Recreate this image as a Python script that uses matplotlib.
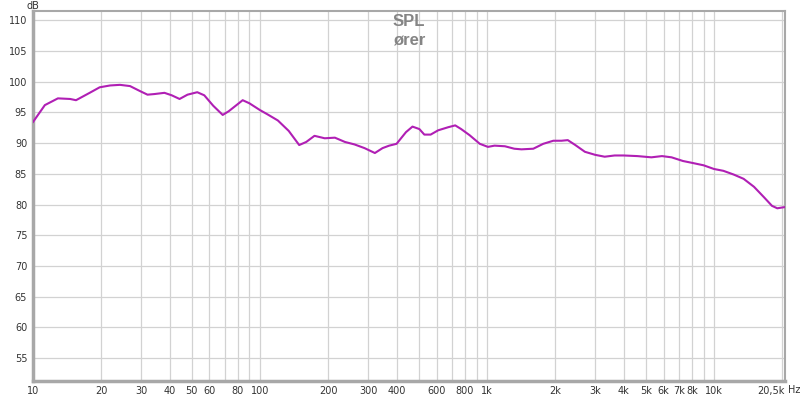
import matplotlib
matplotlib.use('agg')
import matplotlib.pyplot as plt
from matplotlib.ticker import FixedLocator, NullLocator

# frequency response (Hz, dB)
freq = [10, 11.3, 12.9, 14.6, 15.5, 17.8, 19.7, 21.9, 24.2, 26.8, 29.6, 32.0,
        34.3, 38.0, 40.9, 44.3, 48.0, 53.0, 56.9, 62.3, 68.6, 72.9, 84.0, 89.9,
        100, 108, 120, 134, 149, 160, 174, 193, 214, 237, 261, 289, 321, 347,
        371, 400, 440, 470, 504, 530, 565, 610, 675, 725, 770, 839, 930, 1010,
        1080, 1200, 1320, 1420, 1600, 1770, 1960, 2130, 2270, 2450, 2700, 3000,
        3300, 3650, 4000, 4600, 5300, 5900, 6500, 7300, 8000, 9000, 10000,
        11000, 12200, 13500, 15000, 16600, 18000, 19000, 20500]
spl = [93.4, 96.2, 97.3, 97.2, 97.0, 98.2, 99.1, 99.4, 99.5, 99.3, 98.5, 97.9,
       98.0, 98.2, 97.8, 97.2, 97.9, 98.3, 97.8, 96.1, 94.6, 95.2, 97.0, 96.5,
       95.4, 94.7, 93.7, 92.0, 89.7, 90.2, 91.2, 90.8, 90.9, 90.2, 89.8, 89.2,
       88.4, 89.2, 89.6, 89.9, 91.8, 92.7, 92.3, 91.4, 91.4, 92.1, 92.6, 92.9,
       92.3, 91.3, 89.9, 89.4, 89.6, 89.5, 89.1, 89.0, 89.1, 89.9, 90.4, 90.4,
       90.5, 89.7, 88.6, 88.1, 87.8, 88.0, 88.0, 87.9, 87.7, 87.9, 87.7, 87.1,
       86.8, 86.4, 85.8, 85.5, 84.9, 84.2, 82.9, 81.2, 79.8, 79.4, 79.6]

x_ticks = [10, 20, 30, 40, 50, 60, 80, 100, 200, 300, 400, 600, 800,
           1000, 2000, 3000, 4000, 5000, 6000, 7000, 8000, 10000, 20500]
x_labels = ['10', '20', '30', '40', '50', '60', '80', '100', '200', '300',
            '400', '600', '800', '1k', '2k', '3k', '4k', '5k', '6k', '7k',
            '8k', '10k', '20,5k']
y_ticks = list(range(55, 111, 5))

fig = plt.figure(figsize=(8, 3.98), dpi=100)
ax = fig.add_axes([0.041, 0.043, 0.94, 0.929])

# vertical grid at every 1-2-3..9 step per decade
grid_x = [m * 10 ** d for d in (1, 2, 3) for m in range(1, 10)] + [10000, 20000]
for gx in grid_x:
    ax.axvline(gx, color='#d2d2d2', lw=0.9, zorder=1)
for gy in y_ticks:
    ax.axhline(gy, color='#d2d2d2', lw=0.9, zorder=1)

ax.plot(freq, spl, color='#b01fb4', lw=1.5, zorder=3,
        solid_joinstyle='round', solid_capstyle='round')

ax.set_xscale('log')
ax.set_xlim(10, 20500)
ax.set_ylim(51.3, 111.5)
ax.xaxis.set_major_locator(FixedLocator(x_ticks))
ax.xaxis.set_minor_locator(NullLocator())
ax.set_xticklabels(x_labels)
ax.set_yticks(y_ticks)
ax.tick_params(length=0, labelsize=7, colors='#333333', pad=4)
ax.get_xticklabels()[-1].set_horizontalalignment('right')

for side, w in (('left', 2.5), ('bottom', 2.5), ('right', 1.5), ('top', 1.5)):
    ax.spines[side].set_color('#a8a8a8')
    ax.spines[side].set_linewidth(w)

ax.text(0.5, 0.973, 'SPL', transform=ax.transAxes, ha='center', va='center',
        fontsize=12, fontweight='bold', color='#858585', family='Liberation Sans')
ax.text(0.5, 0.92, 'ører', transform=ax.transAxes, ha='center', va='center',
        fontsize=12, fontweight='bold', color='#858585', family='Liberation Sans')
fig.text(0.033, 0.985, 'dB', ha='left', va='center', fontsize=7, color='#333333')
fig.text(0.985, 0.019, 'Hz', ha='left', va='center', fontsize=7, color='#333333')

fig.savefig('out.png', dpi=100)
plt.close(fig)
